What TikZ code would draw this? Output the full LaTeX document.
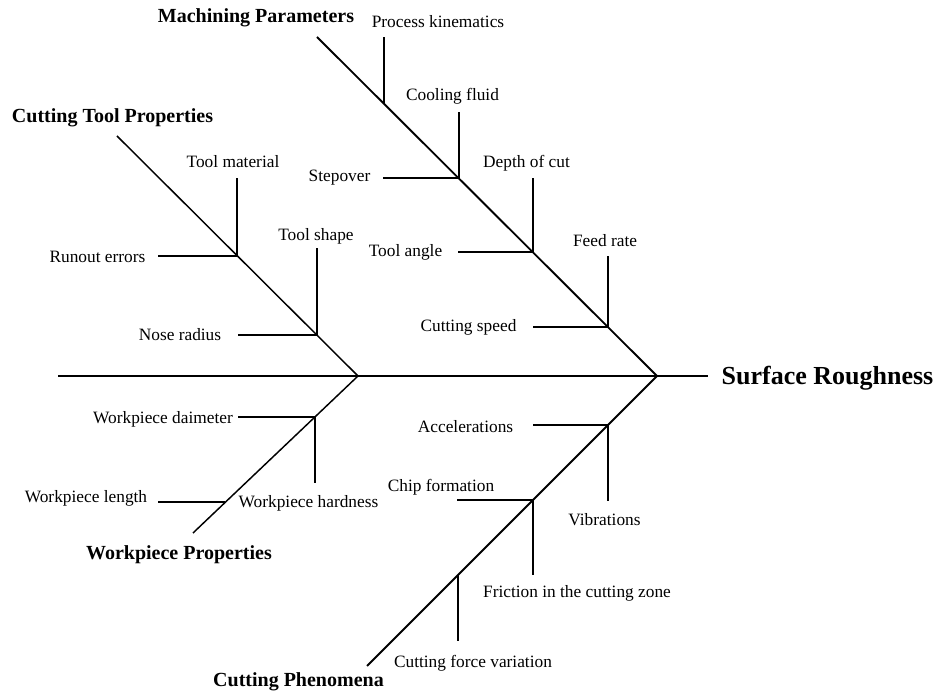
\documentclass[tikz,border=0pt]{standalone}
\usepackage{fontspec}
\setmainfont{Liberation Serif}

\tikzset{
  cause/.style    = {font=\fontsize{13}{15}\selectfont},
  category/.style = {font=\fontsize{15}{18}\selectfont\bfseries},
  effect/.style   = {font=\fontsize{19.5}{23}\selectfont\bfseries},
  bone/.style     = {line width=1.4pt},
  thinbone/.style = {line width=1.1pt},
  rib/.style      = {line width=1.3pt}
}

\begin{document}
\begin{tikzpicture}[x=0.75pt, y=-0.75pt]
\useasboundingbox (0,0) rectangle (936,695);

% spine
\coordinate (tail) at (58,376);
\coordinate (mid)  at (358,376);
\coordinate (head) at (657,376);
\coordinate (tip)  at (708,376);
\node[effect] (sr) at (827.5,378) {Surface Roughness};
\draw[bone] (tail) -- (head) -- (tip);

% machining parameters
\node[category] (mp) at (256,18) {Machining Parameters};
\coordinate (mp0) at (317,37);
\coordinate (mp1) at (384,104);
\coordinate (mp2) at (459,178);
\coordinate (mp3) at (533,252);
\coordinate (mp4) at (608,327);
\draw[bone] (mp0) -- (head);

\node[cause] (pk) at (438,22)    {Process kinematics};
\node[cause] (cf) at (452.5,96)  {Cooling fluid};
\node[cause] (so) at (339.5,178) {Stepover};
\node[cause] (dc) at (526.5,163) {Depth of cut};
\node[cause] (ta) at (405.5,252) {Tool angle};
\node[cause] (fr) at (605,241)   {Feed rate};
\node[cause] (cs) at (468.5,327) {Cutting speed};
\coordinate (pk1) at (384,37);
\coordinate (cf1) at (459,112);
\coordinate (so1) at (383,178);
\coordinate (dc1) at (533,178);
\coordinate (ta1) at (458,252);
\coordinate (fr1) at (608,256);
\coordinate (cs1) at (533,327);
\draw[rib] (mp1) -- (pk1);
\draw[rib] (mp2) -- (cf1);
\draw[rib] (mp2) -- (so1);
\draw[rib] (mp3) -- (dc1);
\draw[rib] (mp3) -- (ta1);
\draw[rib] (mp4) -- (fr1);
\draw[rib] (mp4) -- (cs1);

% cutting tool properties
\node[category] (ct) at (112.5,118) {Cutting Tool Properties};
\coordinate (ct0) at (117,136);
\coordinate (ct1) at (237,256);
\coordinate (ct2) at (317,335);
\draw[thinbone] (ct0) -- (mid);

\node[cause] (tm) at (233,162)  {Tool material};
\node[cause] (re) at (97.5,257) {Runout errors};
\node[cause] (ts) at (316,236)  {Tool shape};
\node[cause] (nr) at (180,335)  {Nose radius};
\coordinate (tm1) at (237,178);
\coordinate (re1) at (158,256);
\coordinate (ts1) at (317,248);
\coordinate (nr1) at (238,335);
\draw[rib] (ct1) -- (tm1);
\draw[rib] (ct1) -- (re1);
\draw[rib] (ct2) -- (ts1);
\draw[rib] (ct2) -- (nr1);

% workpiece properties
\node[category] (wp) at (179,555) {Workpiece Properties};
\coordinate (wp0) at (193,533);
\coordinate (wp1) at (315,417);
\coordinate (wp2) at (225,502);
\draw[thinbone] (mid) -- (wp0);

\node[cause] (wd) at (163,419)   {Workpiece daimeter};
\node[cause] (wh) at (308.5,503) {Workpiece hardness};
\node[cause] (wl) at (86,498)    {Workpiece length};
\coordinate (wd1) at (238,417);
\coordinate (wh1) at (315,483);
\coordinate (wl1) at (158,502);
\draw[rib] (wp1) -- (wd1);
\draw[rib] (wp1) -- (wh1);
\draw[rib] (wp2) -- (wl1);

% cutting phenomena
\node[category] (cp) at (298.5,682) {Cutting Phenomena};
\coordinate (cp0) at (367,666);
\coordinate (cp1) at (608,425);
\coordinate (cp2) at (533,500);
\coordinate (cp3) at (458,575);
\draw[bone] (head) -- (cp0);

\node[cause] (ac)  at (465.5,427) {Accelerations};
\node[cause] (vi)  at (604.5,520) {Vibrations};
\node[cause] (ch)  at (441,487)   {Chip formation};
\node[cause] (fz)  at (577,593)   {Friction in the cutting zone};
\node[cause] (cfv) at (473,663)   {Cutting force variation};
\coordinate (ac1)  at (533,425);
\coordinate (vi1)  at (608,501);
\coordinate (ch1)  at (457,500);
\coordinate (fz1)  at (533,575);
\coordinate (cfv1) at (458,641);
\draw[rib] (cp1) -- (ac1);
\draw[rib] (cp1) -- (vi1);
\draw[rib] (cp2) -- (ch1);
\draw[rib] (cp2) -- (fz1);
\draw[rib] (cp3) -- (cfv1);
\end{tikzpicture}
\end{document}
